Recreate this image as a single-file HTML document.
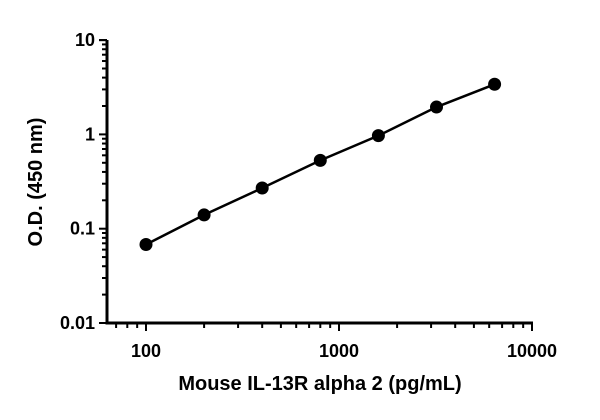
<!DOCTYPE html>
<html><head><meta charset="utf-8"><style>
body{margin:0;background:#fff}
svg text{font-family:"Liberation Sans",sans-serif;font-weight:bold;fill:#000}
</style></head><body>
<svg id="c" width="600" height="415"></svg>
<script>
const xVals=[100,200,400,800,1600,3200,6400];
const yVals=[0.068,0.14,0.27,0.53,0.97,1.95,3.4];
const xTicks=[100,1000,10000];
const xTickLabels=["100","1000","10000"];
const yTicks=[0.01,0.1,1,10];
const yTickLabels=["0.01","0.1","1","10"];
const NS="http://www.w3.org/2000/svg";
const svg=document.getElementById('c');
const X0=107,XD=146,XS=193;
const sx=v=>XD+(Math.log10(v)-2)*XS;
const sy=v=>323-(Math.log10(v)+2)*94.3;
function el(t,a,p){const e=document.createElementNS(NS,t);for(const k in a)e.setAttribute(k,a[k]);(p||svg).appendChild(e);return e;}
const axes=el('g',{});


el('line',{x1:X0,y1:40,x2:X0,y2:324.5,stroke:'#000','stroke-width':3},axes);
el('line',{x1:X0-1.5,y1:323,x2:sx(10000)+1,y2:323,stroke:'#000','stroke-width':3},axes);
for(let d=-2;d<=1;d++){for(let m=1;m<=9;m++){const v=m*Math.pow(10,d);if(v>10)break;
 const y=sy(v);el('line',{x1:X0-(m==1?8:5),y1:y,x2:X0,y2:y,stroke:'#000','stroke-width':2},axes);}}
el('line',{x1:X0-8,y1:sy(10),x2:X0,y2:sy(10),stroke:'#000','stroke-width':2},axes);
yTicks.forEach((v,i)=>{const t=el('text',{x:X0-12,y:sy(v)+6,'text-anchor':'end','font-size':18});t.textContent=yTickLabels[i];

});
for(let d=1;d<=3;d++){for(let m=1;m<=9;m++){const v=m*Math.pow(10,d);const x=sx(v);if(x<X0+3)continue;
 el('line',{x1:x,y1:323,x2:x,y2:323+(m==1?8:5),stroke:'#000','stroke-width':2},axes);}}
el('line',{x1:sx(10000),y1:323,x2:sx(10000),y2:331,stroke:'#000','stroke-width':2},axes);
xTicks.forEach((v,i)=>{const t=el('text',{x:sx(v),y:357,'text-anchor':'middle','font-size':18});t.textContent=xTickLabels[i];

});
const xt=el('text',{x:320,y:390,'text-anchor':'middle','font-size':20});xt.textContent='Mouse IL-13R alpha 2 (pg/mL)';


const yt=el('text',{x:0,y:0,'text-anchor':'middle','font-size':20,transform:'translate(42,182) rotate(-90)'});yt.textContent='O.D. (450 nm)';


const line=el('polyline',{points:xVals.map((v,i)=>sx(v)+','+sy(yVals[i])).join(' '),fill:'none',stroke:'#000','stroke-width':2.5});


xVals.forEach((v,i)=>{const c=el('circle',{cx:sx(v),cy:sy(yVals[i]),r:6.5,fill:'#000'});

});
</script>
</body></html>
